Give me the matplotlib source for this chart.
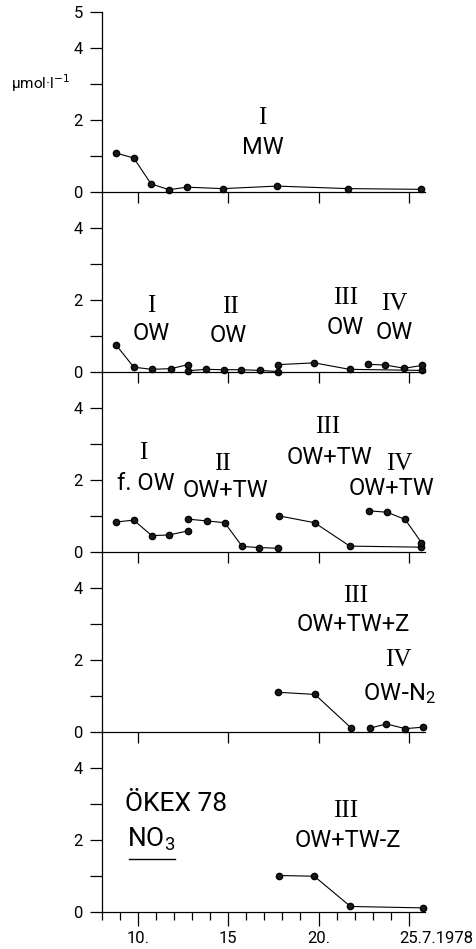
import numpy as np
import matplotlib
matplotlib.use("Agg")
import matplotlib.pyplot as plt
import matplotlib.transforms as mtransforms

plt.rcParams['font.family'] = ['Roboto', 'DejaVu Sans']
plt.rcParams['mathtext.fontset'] = 'dejavusans'

# --- data (day of July 1978, NO3 in umol/l) ---
# panel 1: experiment I, MW
mw_day = [8.76, 9.76, 10.72, 11.72, 12.7, 14.7, 17.7, 21.65, 25.7]
mw_val = [1.07, 0.93, 0.21, 0.05, 0.12, 0.08, 0.15, 0.08, 0.06]

# panel 2: OW, experiments I-IV
ow1_day = [8.76, 9.76, 10.76, 11.84, 12.75]
ow1_val = [0.75, 0.12, 0.06, 0.08, 0.19]
ow2_day = [12.75, 13.74, 14.74, 15.73, 16.73, 17.74]
ow2_val = [0.02, 0.06, 0.05, 0.05, 0.03, 0.0]
ow3_day = [17.74, 19.76, 21.72, 25.75]
ow3_val = [0.19, 0.24, 0.06, 0.03]
ow4_day = [22.74, 23.7, 24.75, 25.75]
ow4_val = [0.20, 0.18, 0.09, 0.17]

# panel 3: f. OW / OW+TW
tw1_day = [8.76, 9.76, 10.76, 11.72, 12.75]
tw1_val = [0.82, 0.87, 0.44, 0.46, 0.57]
tw2_day = [12.75, 13.8, 14.8, 15.77, 16.7, 17.74]
tw2_val = [0.90, 0.85, 0.80, 0.14, 0.11, 0.09]
tw3_day = [17.8, 19.78, 21.73, 25.7]
tw3_val = [0.99, 0.80, 0.15, 0.12]
tw4_day = [22.8, 23.8, 24.8, 25.7]
tw4_val = [1.13, 1.09, 0.89, 0.25]

# panel 4: OW+TW+Z (III), OW-N2 (IV)
z3_day = [17.75, 19.8, 21.78]
z3_val = [1.09, 1.03, 0.11]
n2_day = [22.83, 23.76, 24.8, 25.8]
n2_val = [0.09, 0.21, 0.08, 0.12]

# panel 5: OW+TW-Z (III)
zm_day = [17.8, 19.76, 21.77, 25.8]
zm_val = [1.0, 0.98, 0.14, 0.10]

panels = [
    [(mw_day, mw_val)],
    [(ow1_day, ow1_val), (ow2_day, ow2_val), (ow3_day, ow3_val), (ow4_day, ow4_val)],
    [(tw1_day, tw1_val), (tw2_day, tw2_val), (tw3_day, tw3_val), (tw4_day, tw4_val)],
    [(z3_day, z3_val), (n2_day, n2_val)],
    [(zm_day, zm_val)],
]

# labels: (x, y, text, serif?)
labels = [
    [(16.9, 2.03, "I", True), (16.9, 1.22, "MW", False)],
    [(10.75, 1.83, "I", True), (10.75, 1.06, "OW", False),
     (15.1, 1.79, "II", True), (15.0, 1.0, "OW", False),
     (21.5, 2.05, "III", True), (21.47, 1.23, "OW", False),
     (24.2, 1.88, "IV", True), (24.2, 1.09, "OW", False)],
    [(10.28, 2.73, "I", True), (10.41, 1.9, "f. OW", False),
     (14.7, 2.44, "II", True), (14.84, 1.7, "OW+TW", False),
     (20.5, 3.46, "III", True), (20.6, 2.62, "OW+TW", False),
     (24.5, 2.44, "IV", True), (24.04, 1.76, "OW+TW", False)],
    [(22.03, 3.75, "III", True), (21.9, 2.96, "OW+TW+Z", False),
     (24.4, 1.99, "IV", True), (24.5, 1.05, r"$\mathregular{OW\text{-}N_2}$", False)],
    [(21.5, 2.78, "III", True), (21.6, 1.97, "OW+TW-Z", False)],
]

W, H = 476, 949
fig = plt.figure(figsize=(W / 100, H / 100), dpi=100)

left_px, right_px = 102, 425
panel_h = 180
zeros = [191.5 + panel_h * k for k in range(5)]

axes = []
for k in range(5):
    bottom = 1 - zeros[k] / H
    ax = fig.add_axes([left_px / W, bottom, (right_px - left_px) / W, panel_h / H])
    ax.set_xlim(8.0, 25.9)
    ax.set_ylim(0, 5)
    ax.patch.set_visible(False)
    for s in ['top', 'right']:
        ax.spines[s].set_visible(False)
    ax.spines['left'].set_linewidth(0.9)
    ax.spines['bottom'].set_linewidth(0.9)

    for d, v in panels[k]:
        ax.plot(d, v, color='black', lw=0.8, marker='o', ms=4.5,
                markerfacecolor='#1a1a1a', markeredgecolor='black', clip_on=False)

    for x, y, t, serif in labels[k]:
        if serif:
            ax.text(x, y, t, ha='center', va='center', fontsize=18,
                    family='Liberation Serif')
        else:
            ax.text(x, y, t, ha='center', va='center', fontsize=17)

    if k == 0:
        ax.set_yticks([0, 1, 2, 3, 4, 5])
        ax.set_yticklabels(['0', '', '2', '', '4', '5'])
    else:
        ax.set_yticks([0, 1, 2, 3, 4])
        ax.set_yticklabels(['0', '', '2', '', '4'])
    ax.tick_params(axis='y', direction='out', length=9, width=0.9, pad=5, labelsize=12)

    ax.set_xticks([10, 15, 20, 25])
    ax.tick_params(axis='x', direction='out', length=8, width=0.9, labelsize=12, pad=4)
    if k < 4:
        ax.set_xticklabels([])
    axes.append(ax)

# unit label on top panel
axes[0].text(-0.1, 3, r"µmol·l$^{-1}$", transform=mtransforms.blended_transform_factory(
    axes[0].transAxes, axes[0].transData), ha='right', va='center', fontsize=11)

# bottom panel: day ticks and date labels
axb = axes[4]
axb.set_xticks([d for d in range(8, 26) if d not in (10, 15, 20, 25)], minor=True)
axb.tick_params(axis='x', which='minor', direction='out', length=6, width=0.9)
axb.tick_params(axis='x', which='major', length=10)
axb.set_xticklabels(['10.', '15', '20.', '25.7.1978'])
lab25 = axb.get_xticklabels()[-1]
lab25.set_horizontalalignment('left')
lab25.set_transform(lab25.get_transform() +
                    mtransforms.ScaledTranslation(-10 / 100, 0, fig.dpi_scale_trans))

axb.text(9.26, 2.78, "ÖKEX 78", ha='left', va='baseline', fontsize=19)
axb.text(9.37, 1.8, r"$\mathregular{NO_3}$", ha='left', va='baseline', fontsize=19)
axb.plot([9.49, 12.05], [1.46, 1.46], color='black', lw=1.0)

fig.savefig("out.png", dpi=100)
